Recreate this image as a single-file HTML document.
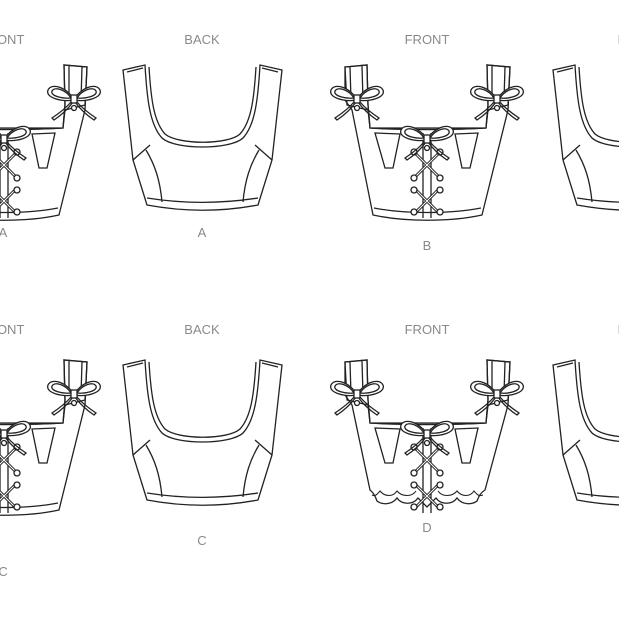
<!DOCTYPE html>
<html><head><style>
html,body{margin:0;padding:0;background:#fff;width:619px;height:619px;overflow:hidden}
svg{display:block}
text{font-family:"Liberation Sans",sans-serif;font-size:13px;fill:#8a8a8a;text-anchor:middle}
</style></head><body>
<svg width="619" height="619" viewBox="0 0 619 619" xmlns="http://www.w3.org/2000/svg">
<defs>
<g id="bow" fill="none" stroke="#222" stroke-width="1.3">
  <path d="M0,0 C-6,-12 -22,-18 -26,-10 C-29,-2 -12,2 0,0 Z" fill="#fff"/>
  <path d="M-3,-2 C-8,-10 -19,-14 -22,-9 C-24,-4 -11,-1 -3,-2"/>
  <path d="M0,0 C6,-12 22,-18 26,-10 C29,-2 12,2 0,0 Z" fill="#fff"/>
  <path d="M3,-2 C8,-10 19,-14 22,-9 C24,-4 11,-1 3,-2"/>
  <path d="M-1,2 C-6,9 -14,16 -20,20 L-22,18 C-16,14 -8,8 -3,2"/>
  <path d="M1,2 C6,9 14,16 20,20 L22,18 C16,14 8,8 3,2"/>
  <rect x="-3" y="-5" width="6" height="8" fill="#fff"/>
  <circle cx="0" cy="8" r="2.5" fill="#fff"/>
</g>
<g id="back" fill="#fff" stroke="#222" stroke-width="1.3">
  <path d="M123,70 L145,65 C147,100 150,125 162,138 C175,150 230,150 243,138 C255,125 258,100 260,65 L282,70 L272,160 L258,205 C220,212 185,212 147,205 L133,160 Z"/>
  <path d="M127,72 L143,68 M262,68 L278,72"/>
  <path d="M149,67 C151,100 154,122 165,134 C178,145 228,145 240,134 C251,122 254,100 256,67" fill="none"/>
  <path d="M133,160 L150,145 M272,160 L255,145" fill="none"/>
  <path d="M147,198 C185,204 220,204 258,198" fill="none"/>
  <path d="M146,150 C155,165 160,180 162,202 M259,150 C250,165 245,180 243,202" fill="none"/>
</g>
<g id="ftop" fill="#fff" stroke="#222" stroke-width="1.3">
  <path d="M345,67 L367,65 L368,105 L370,128 C400,130 455,130 486,128 L488,105 L487,65 L510,67 L508,105 L488,110 L486,128 L370,128 L368,110 L347,105 Z" fill="none"/>
  <path d="M350,67 L351,100 M362,66 L363,100 M492,66 L492,100 M505,67 L504,100" fill="none"/>
  <path d="M375,133 L400,134 L393,168 L385,168 Z M455,134 L478,133 L470,168 L462,168 Z"/>
  <path d="M423,133 L423,218 M431,133 L431,218" fill="none"/>
  <path d="M414,152 L440,178 M440,152 L414,178 M414,188 L440,214 M440,188 L414,214" fill="none" stroke-width="3"/>
  <path d="M414,152 L440,178 M440,152 L414,178 M414,188 L440,214 M440,188 L414,214" fill="none" stroke="#fff" stroke-width="1"/>
  <circle cx="414" cy="152" r="3"/><circle cx="440" cy="152" r="3"/><circle cx="414" cy="178" r="3"/><circle cx="440" cy="178" r="3"/>
  <circle cx="414" cy="190" r="3"/><circle cx="440" cy="190" r="3"/><circle cx="414" cy="212" r="3"/><circle cx="440" cy="212" r="3"/>
  <use href="#bow" x="357" y="100"/>
  <use href="#bow" x="497" y="100"/>
  <use href="#bow" x="427" y="140"/>
</g>
<path id="fbody" d="M345,67 L367,65 L368,105 L370,128 C400,130 455,130 486,128 L488,105 L487,65 L510,67 L508,110 L482,215 C450,222 405,222 373,215 L352,110 L345,100 Z" fill="#fff" stroke="#222" stroke-width="1.3"/>
<g id="front">
  <use href="#fbody"/>
  <path d="M374,208 C405,214 450,214 481,208" fill="none" stroke="#222" stroke-width="1.2"/>
  <use href="#ftop"/>
</g>
</defs>

<text x="427" y="44">FRONT</text>
<text x="202" y="44">BACK</text>
<text x="2" y="44">FRONT</text>
<text x="640" y="44">FRONT</text>
<text x="202" y="237">A</text>
<text x="3" y="237">A</text>
<text x="427" y="250">B</text>
<text x="427" y="334">FRONT</text>
<text x="202" y="334">BACK</text>
<text x="2" y="334">FRONT</text>
<text x="640" y="334">FRONT</text>
<text x="202" y="545">C</text>
<text x="3" y="576">C</text>
<text x="427" y="532">D</text>

<use href="#back"/>
<use href="#back" y="295"/>
<use href="#back" x="430"/>
<use href="#back" x="430" y="295"/>
<use href="#front"/>
<use href="#front" x="-423"/>
<use href="#front" x="-423" y="295"/>
<g transform="translate(0,295)">
  <path d="M345,67 L367,65 L368,105 L370,128 C400,130 455,130 486,128 L488,105 L487,65 L510,67 L508,110 L485,195 C480,198 478,203 477,206 C472,210 462,210 457,203 C452,210 441,210 436,203 L427,212 L418,203 C413,210 402,210 397,203 C392,210 382,210 377,206 C376,203 374,198 370,195 L352,110 L345,100 Z" fill="#fff" stroke="#222" stroke-width="1.3"/>
  <path d="M372,200 C376,202 378,198 380,196 C385,202 393,202 397,196 C402,202 412,202 416,196 M438,196 C442,202 452,202 457,196 C462,202 470,202 474,196 C476,198 478,202 483,200" fill="none" stroke="#222" stroke-width="1.1"/>
  <use href="#ftop"/>
</g>
</svg>
</body></html>
